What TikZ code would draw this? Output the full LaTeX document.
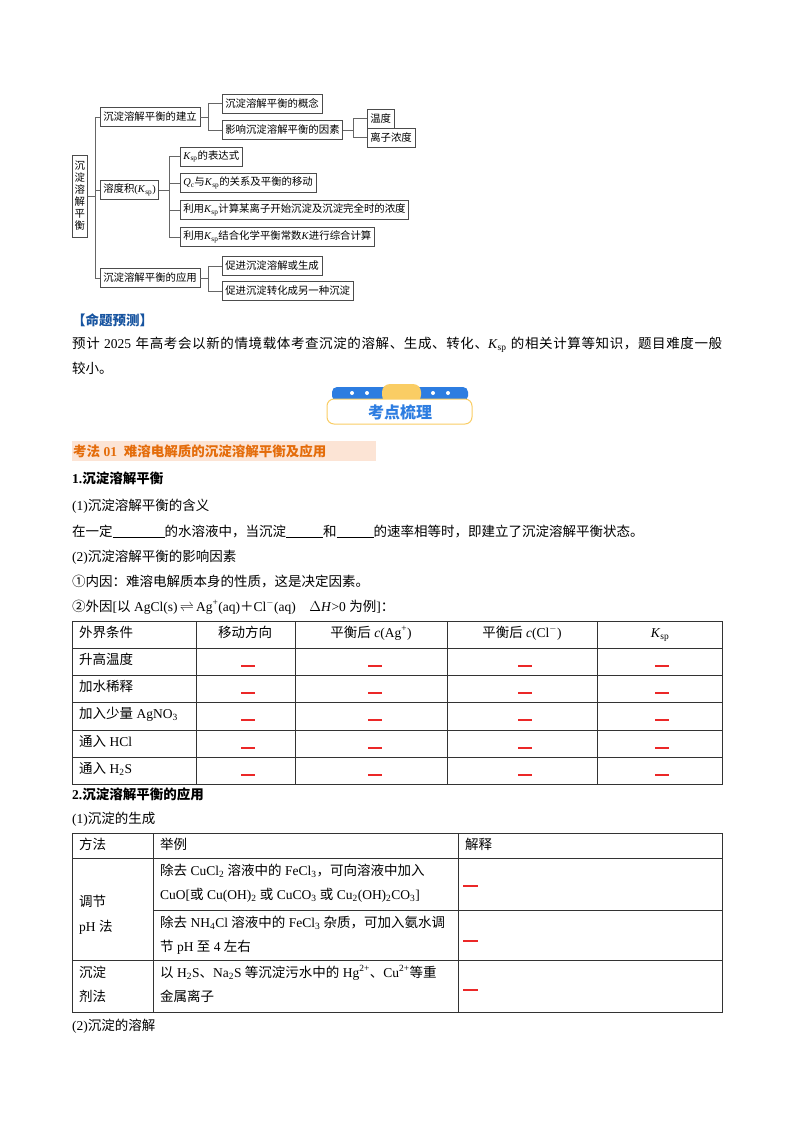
\documentclass[tikz,border=0pt]{standalone}
\usepackage{fontspec}
\setmainfont{Liberation Serif}
\newfontfamily\cjk{Noto Sans CJK SC}
\XeTeXinterchartokenstate=1
\newXeTeXintercharclass\cjkcls
\makeatletter
\def\setcls#1#2{\count@=#1\relax\loop\XeTeXcharclass\count@=\cjkcls\advance\count@ 1\ifnum\count@<#2\repeat}
\setcls{"2460}{"2500}\setcls{"3000}{"3040}\setcls{"4E00}{"A000}\setcls{"FF00}{"FFF0}
\makeatother
\XeTeXinterchartoks 0 \cjkcls = {\cjk}
\XeTeXinterchartoks 4095 \cjkcls = {\cjk}
\XeTeXinterchartoks \cjkcls 0 = {\rmfamily}
\XeTeXinterchartoks \cjkcls 4095 = {\rmfamily}
\XeTeXinterchartoks \cjkcls \cjkcls = {\hskip 0pt plus 1pt\relax}
\definecolor{hd}{RGB}{23,84,160}
\definecolor{og}{RGB}{228,108,10}
\definecolor{ogbg}{RGB}{252,228,213}
\definecolor{bn}{RGB}{45,125,225}
\definecolor{yl}{RGB}{250,205,100}
\definecolor{rd}{RGB}{235,40,40}
\newcommand{\Ksp}{\textit{K}\textsubscript{sp}}
\begin{document}
\begin{tikzpicture}[x=1pt,y=-1pt,
 box/.style={draw=black!70,line width=0.5pt,anchor=west,inner xsep=3pt,inner ysep=2pt,minimum height=19pt,font=\fontsize{10.4}{12}\selectfont},
 ln/.style={draw=black!60,line width=0.5pt},
 txt/.style={anchor=base west,inner sep=0pt,font=\fontsize{13.5}{16}\selectfont},
 cell/.style={anchor=base,inner sep=0pt,font=\fontsize{13.5}{16}\selectfont},
 rdash/.style={draw=rd,line width=1.3pt},
 tb/.style={draw=black!80,line width=0.6pt}]
\useasboundingbox[fill=white] (0,0) rectangle (800,1132);
% ---- mind map
\node[box,minimum height=82pt,text width=11pt,align=center,inner xsep=2pt] (r) at (72,196) {沉\\淀\\溶\\解\\平\\衡};
\node[box] (b1) at (100,117) {沉淀溶解平衡的建立};
\node[box] (b2) at (100,190) {溶度积(\Ksp)};
\node[box] (b3) at (100,278) {沉淀溶解平衡的应用};
\node[box] (c11) at (222,103.5) {沉淀溶解平衡的概念};
\node[box] (c12) at (222,130) {影响沉淀溶解平衡的因素};
\node[box] (d1) at (367,118.5) {温度};
\node[box] (d2) at (367,137.5) {离子浓度};
\node[box] (c21) at (180,156.5) {\Ksp 的表达式};
\node[box] (c22) at (180,183) {\textit{Q}\textsubscript{c}与\Ksp 的关系及平衡的移动};
\node[box] (c23) at (180,210) {利用\Ksp 计算某离子开始沉淀及沉淀完全时的浓度};
\node[box] (c24) at (180,237) {利用\Ksp 结合化学平衡常数\textit{K}进行综合计算};
\node[box] (c31) at (222,266) {促进沉淀溶解或生成};
\node[box] (c32) at (222,291) {促进沉淀转化成另一种沉淀};
\foreach \a in {b1,b2,b3} \draw[ln] (r.east) -- ++(8,0) |- (\a.west);
\foreach \a in {c11,c12} \draw[ln] (b1.east) -- ++(8,0) |- (\a.west);
\foreach \a in {d1,d2} \draw[ln] (c12.east) -- ++(10,0) |- (\a.west);
\foreach \a in {c21,c22,c23,c24} \draw[ln] (b2.east) -- ++(10,0) |- (\a.west);
\foreach \a in {c31,c32} \draw[ln] (b3.east) -- ++(8,0) |- (\a.west);
% ---- prediction
\node[txt,text=hd,font=\fontsize{13.5}{16}\selectfont\bfseries] (p0) at (72,325) {【命题预测】};
\node[txt] (p1) at (72,348) {\makebox[650pt][s]{预计 2025 年高考会以新的情境载体考查沉淀的溶解、生成、转化、\textit{K}\textsubscript{sp} 的相关计算等知识，题目难度一般}};
\node[txt] (p2) at (72,373) {较小。};
% ---- banner
\fill[bn,rounded corners=5pt] (332,387) rectangle (468,401);
\fill[yl,rounded corners=8pt] (382,384) rectangle (421,403);
\foreach \x in {352,367,433,448} \fill[white] (\x,393) circle (2pt);
\draw[yl,line width=1pt,fill=white,rounded corners=7pt] (327,399) rectangle (472,424);
\node[inner sep=0pt,text=bn,font=\fontsize{16}{18}\selectfont\bfseries] (bt) at (400,412) {考点梳理};
% ---- section heading
\fill[ogbg] (72,441) rectangle (376,461);
\node[txt,text=og,font=\fontsize{13.5}{16}\selectfont\bfseries] (h1) at (73,456) {考法 01\ \ 难溶电解质的沉淀溶解平衡及应用};
\node[txt,font=\fontsize{13.5}{16}\selectfont\bfseries] (h2) at (72,483) {1.沉淀溶解平衡};
\node[txt] (l1) at (72,510) {(1)沉淀溶解平衡的含义};
\node[txt] (l2) at (72,536) {在一定\underline{\hspace{52pt}}的水溶液中，当沉淀\underline{\hspace{37pt}}和\underline{\hspace{37pt}}的速率相等时，即建立了沉淀溶解平衡状态。};
\node[txt] (l3) at (72,561) {(2)沉淀溶解平衡的影响因素};
\node[txt] (l4) at (72,586) {①内因：难溶电解质本身的性质，这是决定因素。};
\node[txt] (l5) at (72,611) {②外因[以 AgCl(s)\,$\rightleftharpoons$\,Ag\textsuperscript{+}(aq)＋Cl\textsuperscript{$-$}(aq)\quad $\Delta$\textit{H}>0 为例]：};
% ---- table 1
\draw[tb] (72,621) rectangle (722,784);
\foreach \y in {648,675,702,730,757} \draw[tb] (72,\y) -- (722,\y);
\foreach \x in {196,295,447,597} \draw[tb] (\x,621) -- (\x,784);
\node[txt] (t00) at (79,637) {外界条件};
\node[cell] (t01) at (245,637) {移动方向};
\node[cell] (t02) at (371,637) {平衡后 \textit{c}(Ag\textsuperscript{+})};
\node[cell] (t03) at (522,637) {平衡后 \textit{c}(Cl\textsuperscript{$-$})};
\node[cell] (t04) at (660,637) {\Ksp};
\node[txt] (t10) at (79,664) {升高温度};
\node[txt] (t20) at (79,691) {加水稀释};
\node[txt] (t30) at (79,718) {加入少量 AgNO\textsubscript{3}};
\node[txt] (t40) at (79,746) {通入 HCl};
\node[txt] (t50) at (79,773) {通入 H\textsubscript{2}S};
\foreach \y in {666,693,720,748,775}
  \foreach \x in {248,375,525,662} \draw[rdash] (\x-7,\y) -- (\x+7,\y);
% ---- section 2
\node[txt,font=\fontsize{13.5}{16}\selectfont\bfseries] (s2) at (72,799) {2.沉淀溶解平衡的应用};
\node[txt] (s21) at (72,823) {(1)沉淀的生成};
\draw[tb] (72,833) rectangle (722,1012);
\draw[tb] (72,858) -- (722,858);
\draw[tb] (153,910) -- (722,910);
\draw[tb] (72,960) -- (722,960);
\draw[tb] (153,833) -- (153,1012);
\draw[tb] (458,833) -- (458,1012);
\node[txt] (u0) at (79,849) {方法};
\node[txt] (u1) at (160,849) {举例};
\node[txt] (u2) at (465,849) {解释};
\node[txt] (m1a) at (79,906) {调节};
\node[txt] (m1b) at (79,931) {pH 法};
\node[txt] (e1a) at (160,875) {除去 CuCl\textsubscript{2} 溶液中的 FeCl\textsubscript{3}，可向溶液中加入};
\node[txt] (e1b) at (160,899) {CuO[或 Cu(OH)\textsubscript{2} 或 CuCO\textsubscript{3} 或 Cu\textsubscript{2}(OH)\textsubscript{2}CO\textsubscript{3}]};
\node[txt] (e2a) at (160,927) {除去 NH\textsubscript{4}Cl 溶液中的 FeCl\textsubscript{3} 杂质，可加入氨水调};
\node[txt] (e2b) at (160,951) {节 pH 至 4 左右};
\node[txt] (m2a) at (79,977) {沉淀};
\node[txt] (m2b) at (79,1001) {剂法};
\node[txt] (e3a) at (160,977) {以 H\textsubscript{2}S、Na\textsubscript{2}S 等沉淀污水中的 Hg\textsuperscript{2+}、Cu\textsuperscript{2+}等重};
\node[txt] (e3b) at (160,1001) {金属离子};
\foreach \y in {886,941,990} \draw[rdash] (463,\y) -- (478,\y);
\node[txt] (s22) at (72,1030) {(2)沉淀的溶解};
\end{tikzpicture}
\end{document}
